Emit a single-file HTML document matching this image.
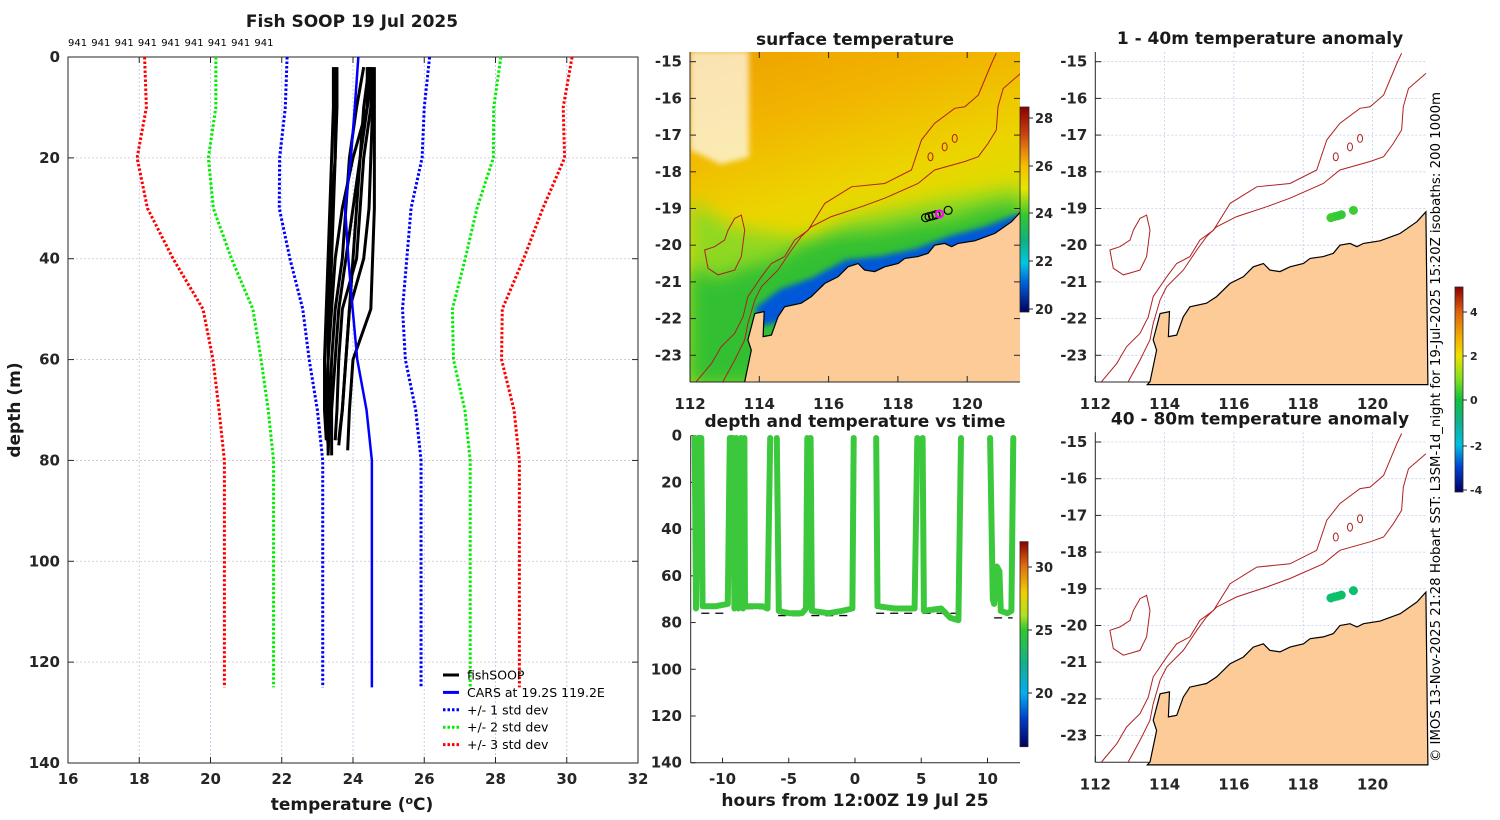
<!DOCTYPE html>
<html><head><meta charset="utf-8">
<style>
html,body{margin:0;padding:0;background:#fff;}
svg{display:block;font-family:"DejaVu Sans","Liberation Sans",sans-serif;}
.t{font-weight:bold;font-size:17px;fill:#1a1a1a;}
.tk{font-weight:bold;font-size:15px;fill:#262626;}
.sm{font-size:12.5px;fill:#000;}
</style></head>
<body>
<svg id="root" width="1500" height="820" viewBox="0 0 1500 820">
<defs>
<linearGradient id="gSST" x1="0" y1="0" x2="0" y2="1">
<stop offset="0" stop-color="#8b0000"/><stop offset="0.12" stop-color="#c43a10"/><stop offset="0.22" stop-color="#e88a10"/>
<stop offset="0.29" stop-color="#f5c000"/><stop offset="0.4" stop-color="#e6e600"/><stop offset="0.53" stop-color="#30c830"/>
<stop offset="0.65" stop-color="#10b080"/><stop offset="0.76" stop-color="#00c8e0"/><stop offset="0.86" stop-color="#0060d8"/>
<stop offset="1" stop-color="#000060"/></linearGradient>
<linearGradient id="gTime" x1="0" y1="0" x2="0" y2="1">
<stop offset="0" stop-color="#8b0000"/><stop offset="0.12" stop-color="#e07010"/><stop offset="0.25" stop-color="#f0d000"/>
<stop offset="0.36" stop-color="#b0e020"/><stop offset="0.43" stop-color="#30c830"/><stop offset="0.6" stop-color="#10b090"/>
<stop offset="0.74" stop-color="#00b0f0"/><stop offset="0.86" stop-color="#0040d0"/><stop offset="1" stop-color="#000060"/></linearGradient>
<linearGradient id="gAnom" x1="0" y1="0" x2="0" y2="1">
<stop offset="0" stop-color="#8b0000"/><stop offset="0.12" stop-color="#e06010"/><stop offset="0.25" stop-color="#f0b000"/>
<stop offset="0.335" stop-color="#f0e000"/><stop offset="0.45" stop-color="#80e020"/><stop offset="0.55" stop-color="#10c040"/>
<stop offset="0.66" stop-color="#10b090"/><stop offset="0.77" stop-color="#00c0e0"/><stop offset="0.88" stop-color="#0040d0"/>
<stop offset="1" stop-color="#000060"/></linearGradient>
<linearGradient id="gSea" x1="0" y1="0" x2="0.3" y2="1">
<stop offset="0" stop-color="#eea000"/><stop offset="0.25" stop-color="#f2b400"/><stop offset="0.5" stop-color="#ecd400"/>
<stop offset="0.7" stop-color="#d8e000"/><stop offset="1" stop-color="#a8dc10"/></linearGradient>
<filter id="blur8" x="-20%" y="-20%" width="140%" height="140%"><feGaussianBlur stdDeviation="9"/></filter>
<filter id="blur3" x="-20%" y="-20%" width="140%" height="140%"><feGaussianBlur stdDeviation="3"/></filter>
<clipPath id="clipSST"><rect x="690" y="52" width="330" height="330"/></clipPath>
</defs>
<g id="leftPanel"></g>
<g id="sstPanel"></g>
<g id="timePanel"></g>
<g id="anomPanels"></g>
<text x="1440" y="762" transform="rotate(-90 1440 762)" textLength="670" lengthAdjust="spacingAndGlyphs" style="font-size:13px;fill:#000">© IMOS 13-Nov-2025 21:28 Hobart SST: L3SM-1d_night for 19-Jul-2025 15:20Z isobaths: 200  1000m</text>
</svg>
<script>
// ---------- data ----------
const climDepth = [0,10,20,30,40,50,60,70,80,90,100,110,125];
const carsMean  = [24.15,24.05,23.94,23.78,23.87,23.99,24.12,24.38,24.53,24.53,24.53,24.53,24.53];
const carsSD    = [2.0,1.95,2.0,1.85,1.64,1.4,1.35,1.38,1.38,1.38,1.38,1.38,1.38];
const profDepth = [2,10,20,30,40,50,60,70,76];
const prof1 = [23.45,23.45,23.4,23.35,23.3,23.25,23.2,23.2,23.25];
const prof2 = [23.5,23.5,23.5,23.45,23.4,23.35,23.3,23.25,23.3];
const prof3 = [24.4,24.4,24.0,23.7,23.5,23.4,23.3,23.3,23.3];
const prof4 = [24.5,24.4,24.2,24.0,23.8,23.6,23.5,23.4,23.4];
const prof5 = [24.5,24.5,24.3,24.2,24.1,23.7,23.6,23.55,23.5];
const prof6 = [24.55,24.55,24.5,24.45,24.3,23.9,23.8,23.7,23.6];
const prof7 = [24.6,24.6,24.6,24.6,24.55,24.5,24.0,23.9,23.85];
const prof8 = [24.3,24.1,23.9,23.8,23.7,23.5,23.4,23.35,23.3];
const prof9 = [24.45,24.3,24.2,24.1,24.0,23.9,23.8,23.7,23.6];
const prof10= [23.55,23.55,23.5,23.4,23.35,23.3,23.3,23.25,23.3];
const tempTicks = [16,18,20,22,24,26,28,30,32];
const depthTicks = [0,20,40,60,80,100,120,140];
const counts = ["941","941","941","941","941","941","941","941","941"];

const traceHours = [-12.1,-12.0,-11.85,-11.6,-11.5,-10.5,-9.6,-9.45,-9.2,-9.1,-8.95,-8.8,-8.6,-8.45,-8.35,-8.3,-7.0,-6.6,-6.4,null,-5.9,-5.75,-5.0,-4.0,-3.7,-3.6,null,-3.35,-3.25,-2,-1,-0.2,-0.1,null,1.6,1.7,3,4.5,4.7,null,5.1,5.2,6.5,7.2,7.8,8.0,null,10.2,10.4,10.5,10.7,10.9,11.0,11.5,11.8,11.95];
const traceDepth = [1,74,1,1,73,73,72,1,1,74,1,74,1,74,1,73,73,74,1,null,1,75,76,76,74,1,null,1,75,76,75,74,1,null,1,73,74,74,1,null,1,75,74,78,79,1,null,1,70,72,56,58,75,76,75,1];
const bottomStart = [-11.6,-8.3,-5.8,-3.3,1.6,5.1,10.5];
const bottomEnd   = [-9.6,-6.5,-3.7,-0.2,4.7,8.0,11.9];
const bottomDepth = [76,74,77,77,76,76,78];
const hourTicks = [-10,-5,0,5,10];
const timeDepthTicks = [0,20,40,60,80,100,120,140];

const coastLon = [113.58,113.77,113.67,113.87,114.14,114.11,114.35,114.54,114.73,115.21,115.5,115.89,116.27,116.56,116.85,117.04,117.33,117.62,118.01,118.2,118.58,118.87,119.06,119.35,119.55,119.74,120.22,120.8,121.28,121.54,121.6,113.5];
const coastLat = [-23.72,-22.86,-22.58,-21.86,-21.81,-22.49,-22.45,-21.95,-21.68,-21.58,-21.4,-21.04,-20.86,-20.59,-20.5,-20.68,-20.72,-20.59,-20.5,-20.36,-20.31,-20.22,-20.0,-19.95,-20.04,-19.95,-19.88,-19.68,-19.36,-19.09,-23.8,-23.8];
const iso200Lon = [112.95,113.29,113.58,113.67,113.87,114.06,114.54,114.93,115.21,115.5,116.08,116.95,117.62,118.58,119.06,119.93,120.32,120.6,120.84,120.89,121.04,121.54];
const iso200Lat = [-23.72,-23.13,-22.58,-22.13,-21.49,-21.13,-20.68,-20.13,-19.77,-19.5,-19.22,-18.95,-18.72,-18.32,-17.95,-17.72,-17.59,-17.23,-16.86,-16.23,-15.73,-15.32];
const iso1000Lon = [112.18,112.62,112.9,113.29,113.53,113.67,114.06,114.35,114.73,115.02,115.41,115.89,116.66,117.62,118.39,118.68,119.06,119.64,119.93,120.32,120.7,120.84];
const iso1000Lat = [-23.72,-23.22,-22.77,-22.4,-21.95,-21.4,-20.86,-20.5,-20.31,-19.86,-19.59,-18.86,-18.41,-18.32,-17.95,-17.13,-16.68,-16.27,-16.23,-15.91,-15.05,-14.77];
const islandLon = [113.48,113.58,113.48,113.29,112.81,112.52,112.42,112.71,113.0,113.1,113.29];
const islandLat = [-19.18,-19.59,-20.31,-20.68,-20.81,-20.63,-20.13,-20.04,-19.86,-19.59,-19.27];
const reefLon = [118.94,119.35,119.64];
const reefLat = [-17.59,-17.32,-17.09];
const stnLon = [118.8,118.9,119.0,119.1,119.45];
const stnLat = [-19.25,-19.22,-19.2,-19.17,-19.05];
const anomShallow = [0.4,0.4,0.3,0.3,0.4];
const anomDeep = [-0.6,-0.6,-0.5,-0.5,-0.6];
const lonTicks = [112,114,116,118,120];
const latTicks = [-15,-16,-17,-18,-19,-20,-21,-22,-23];

// ---------- helpers ----------
const NS='http://www.w3.org/2000/svg';
function mk(parent, tag, attrs, text){const e=document.createElementNS(NS,tag);for(const k in attrs)e.setAttribute(k,attrs[k]);if(text!==undefined)e.textContent=text;parent.appendChild(e);return e;}

// ---------- left panel ----------
(function(){
const g=document.getElementById('leftPanel');
const L=68,R=638,T=57,B=763;
const xs=t=>L+(t-16)/(16)*(R-L);
const ys=d=>T+d/140*(B-T);
let e;
e=mk(g,'rect',{x:L,y:T,width:R-L,height:B-T,fill:'#fff',stroke:'#262626','stroke-width':1});

tempTicks.forEach((t,i)=>{
 if(i>0&&i<tempTicks.length-1){e=mk(g,'line',{x1:xs(t),x2:xs(t),y1:T,y2:B,stroke:'#b8c4e6','stroke-width':0.8,'stroke-dasharray':'2 2'});
 }
 mk(g,'line',{x1:xs(t),x2:xs(t),y1:B,y2:B-6,stroke:'#262626'});mk(g,'line',{x1:xs(t),x2:xs(t),y1:T,y2:T+6,stroke:'#262626'});
 e=mk(g,'text',{x:xs(t),y:784,'text-anchor':'middle',class:'tk'},String(t));
 
});
depthTicks.forEach((d,i)=>{
 if(i>0&&i<depthTicks.length-1){e=mk(g,'line',{x1:L,x2:R,y1:ys(d),y2:ys(d),stroke:'#d8c0c8','stroke-width':0.8,'stroke-dasharray':'2 2'});
 }
 mk(g,'line',{x1:L,x2:L+6,y1:ys(d),y2:ys(d),stroke:'#262626'});mk(g,'line',{x1:R,x2:R-6,y1:ys(d),y2:ys(d),stroke:'#262626'});
 e=mk(g,'text',{x:60,y:ys(d)+5,'text-anchor':'end',class:'tk'},String(d));
 
});
const stdCols=['#0000ff','#00ee00','#ff0000'];
[1,2,3].forEach(k=>{[-1,1].forEach(s=>{
 const pts=climDepth.map((d,i)=>xs(carsMean[i]+s*k*carsSD[i])+','+ys(d)).join(' ');
 e=mk(g,'polyline',{points:pts,fill:'none',stroke:stdCols[k-1],'stroke-width':3,'stroke-dasharray':'2.5 2'});
 
});});
[prof1,prof2,prof3,prof4,prof5,prof6,prof7,prof8,prof9,prof10].forEach((p,j)=>{
 const pts=p.map((t,i)=>xs(t)+','+ys(profDepth[i]+(i==p.length-1?(j%4):0))).join(' ');
 e=mk(g,'polyline',{points:pts,fill:'none',stroke:'#000','stroke-width':3,'stroke-linejoin':'round'});
 
});
e=mk(g,'polyline',{points:climDepth.map((d,i)=>xs(carsMean[i])+','+ys(d)).join(' '),fill:'none',stroke:'#0000ff','stroke-width':2.5});

counts.forEach((c,i)=>{e=mk(g,'text',{x:68+i*23.3,y:46,style:'font-size:10px;fill:#000'},c);
 });
e=mk(g,'text',{x:352,y:27,'text-anchor':'middle',class:'t'},'Fish SOOP 19 Jul 2025');

e=mk(g,'text',{x:352,y:810,'text-anchor':'middle',class:'t'});
e.innerHTML='temperature (<tspan dy="-6" style="font-size:11px">o</tspan><tspan dy="6">C)</tspan>';

e=mk(g,'text',{x:20,y:410,'text-anchor':'middle',class:'t',transform:'rotate(-90 20 410)'},'depth (m)');

const leg=[['fishSOOP','#000',''],['CARS at 19.2S 119.2E','#0000ff',''],['+/- 1 std dev','#0000ff','2.5 2'],['+/- 2 std dev','#00ee00','2.5 2'],['+/- 3 std dev','#ff0000','2.5 2']];
leg.forEach((l,i)=>{const y=675+i*17.4;
 const lg=mk(g,'g',{});
 const a={x1:443,x2:459,y1:y,y2:y,stroke:l[1],'stroke-width':3};if(l[2])a['stroke-dasharray']=l[2];mk(lg,'line',a);
 mk(lg,'text',{x:467,y:y+4.5,class:'sm'},l[0]);});
})();

// ---------- map helpers ----------
function proj(x0,yTop){return [lon=>x0+(lon-112)*34.65, lat=>yTop+(-14.736-lat)*36.7];}
function pathFrom(px,py,lons,lats,close){return lons.map((l,i)=>(i?'L':'M')+px(l).toFixed(1)+','+py(lats[i]).toFixed(1)).join('')+(close?'Z':'');}
function mapAxes(g,x0,yTop,grid){
 const [px,py]=proj(x0,yTop);let e;
 lonTicks.forEach(l=>{ if(grid){mk(g,'line',{x1:px(l),x2:px(l),y1:yTop,y2:yTop+330,stroke:'#c4cce8','stroke-width':0.8,'stroke-dasharray':'2 2'});}
  mk(g,'line',{x1:px(l),x2:px(l),y1:yTop+330,y2:yTop+324,stroke:'#262626'});
  if(!grid)mk(g,'line',{x1:px(l),x2:px(l),y1:yTop,y2:yTop+6,stroke:'#262626'});
  e=mk(g,'text',{x:px(l),y:yTop+357,'text-anchor':'middle',class:'tk'},String(l));
  });
 latTicks.forEach(l=>{ if(grid){mk(g,'line',{x1:x0,x2:x0+330,y1:py(l),y2:py(l),stroke:'#c4cce8','stroke-width':0.8,'stroke-dasharray':'2 2'});}
  mk(g,'line',{x1:x0,x2:x0+6,y1:py(l),y2:py(l),stroke:'#262626'});
  if(!grid)mk(g,'line',{x1:x0+330,x2:x0+324,y1:py(l),y2:py(l),stroke:'#262626'});
  e=mk(g,'text',{x:x0-8,y:py(l)+5,'text-anchor':'end',class:'tk'},String(l));
  });
 mk(g,'line',{x1:x0,x2:x0,y1:yTop,y2:yTop+330,stroke:'#262626'});
 mk(g,'line',{x1:x0,x2:x0+330,y1:yTop+330,y2:yTop+330,stroke:'#262626'});
}
function bathy(g,px,py){let e;
 e=mk(g,'path',{d:pathFrom(px,py,iso200Lon,iso200Lat),fill:'none',stroke:'#b02020','stroke-width':1});
 e=mk(g,'path',{d:pathFrom(px,py,iso1000Lon,iso1000Lat),fill:'none',stroke:'#b02020','stroke-width':1});
 e=mk(g,'path',{d:pathFrom(px,py,islandLon,islandLat,true),fill:'none',stroke:'#b02020','stroke-width':1});
 reefLon.forEach((l,i)=>{mk(g,'ellipse',{cx:px(l),cy:py(reefLat[i]),rx:2.5,ry:4,fill:'none',stroke:'#b02020','stroke-width':1});});
}
function land(g,px,py){const e=mk(g,'path',{d:pathFrom(px,py,coastLon,coastLat,true),fill:'#fccb98',stroke:'#000','stroke-width':1.2});
 }

// ---------- SST map ----------
(function(){
const g=document.getElementById('sstPanel');const x0=690,yT=52;const [px,py]=proj(x0,yT);let e;
const f=mk(g,'g',{'clip-path':'url(#clipSST)'});
mk(f,'rect',{x:690,y:52,width:330,height:330,fill:'url(#gSea)'});
mk(f,'path',{d:pathFrom(px,py,[112,113.2,115.5,116.6,118,119.5,121.6,121.6,112],[-18.8,-19.5,-19.9,-19.3,-19.0,-18.7,-18.4,-23.8,-23.8],true),fill:'#8fd820',filter:'url(#blur8)'});
mk(f,'path',{d:pathFrom(px,py,[112,112.8,113.6,114.5,115.2,116.2,117.5,118.5,119.5,120.5,121.6,121.6,113.5,112],[-20.6,-20.9,-20.6,-20.4,-20.0,-19.7,-19.6,-19.4,-19.3,-19.0,-18.8,-23.8,-23.8,-23.8],true),fill:'#30c030',filter:'url(#blur8)'});
mk(f,'path',{d:pathFrom(px,py,[113.9,114.6,115.5,116.5,117.5,118.5,119.5,120.5,121.6,121.6,114],[-21.7,-21.2,-20.9,-20.4,-20.3,-20.1,-19.75,-19.5,-19.1,-21,-22.2],true),fill:'#0058d8',filter:'url(#blur3)'});
mk(f,'path',{d:pathFrom(px,py,[112,112.6,113.7,113.7,112.9,112],[-14.7,-14.7,-14.7,-17.6,-17.8,-17.4],true),fill:'#ffffff',opacity:0.7,filter:'url(#blur3)'});
land(f,px,py);bathy(f,px,py);
stnLon.forEach((l,i)=>{e=mk(g,'circle',{cx:px(l),cy:py(stnLat[i]),r:4,fill:'none',stroke:'#000','stroke-width':1.2});});
e=mk(g,'circle',{cx:px(119.2),cy:py(-19.15),r:3.5,fill:'none',stroke:'#ff00ff','stroke-width':2.2});
mapAxes(g,x0,yT,false);
e=mk(g,'text',{x:855,y:45,'text-anchor':'middle',class:'t'},'surface temperature');
e=mk(g,'rect',{x:1020,y:107,width:9,height:205,fill:'url(#gSST)',stroke:'#262626','stroke-width':0.8});
[[28,118],[26,166],[24,213],[22,261],[20,309]].forEach(c=>{mk(g,'line',{x1:1029,x2:1033,y1:c[1],y2:c[1],stroke:'#262626'});
 e=mk(g,'text',{x:1035,y:c[1]+5,style:'font-weight:bold;font-size:13px;fill:#262626'},String(c[0]));});
})();

// ---------- time panel ----------
(function(){
const g=document.getElementById('timePanel');let e;
const L=690.7,R=1020,T=435.7,B=762.7;
const xs=h=>855+h*13.25;const ys=d=>T+d/140*(B-T);
mk(g,'line',{x1:L,x2:L,y1:T,y2:B,stroke:'#262626'});mk(g,'line',{x1:L,x2:R,y1:B,y2:B,stroke:'#262626'});
timeDepthTicks.forEach(d=>{mk(g,'line',{x1:L,x2:L+5,y1:ys(d),y2:ys(d),stroke:'#262626'});
 e=mk(g,'text',{x:682,y:ys(d)+5,'text-anchor':'end',class:'tk'},String(d));});
hourTicks.forEach(h=>{mk(g,'line',{x1:xs(h),x2:xs(h),y1:B,y2:B-5,stroke:'#262626'});
 e=mk(g,'text',{x:xs(h),y:784,'text-anchor':'middle',class:'tk'},String(h));});
bottomStart.forEach((s,i)=>{e=mk(g,'line',{x1:xs(s),x2:xs(bottomEnd[i]),y1:ys(bottomDepth[i]),y2:ys(bottomDepth[i]),stroke:'#000','stroke-width':1.3,'stroke-dasharray':'8 6'});
 });
let seg=[];const segs=[];
traceHours.forEach((h,i)=>{if(h===null){segs.push(seg);seg=[];}else seg.push(xs(h).toFixed(1)+','+ys(traceDepth[i]).toFixed(1));});segs.push(seg);
segs.forEach(s=>{e=mk(g,'polyline',{points:s.join(' '),fill:'none',stroke:'#3cc83c','stroke-width':6,'stroke-linejoin':'round','stroke-linecap':'round'});
 });
e=mk(g,'text',{x:855,y:427,'text-anchor':'middle',class:'t'},'depth and temperature vs time');
e=mk(g,'text',{x:855,y:806,'text-anchor':'middle',class:'t'},'hours from 12:00Z 19 Jul 25');
e=mk(g,'rect',{x:1020,y:541.7,width:8,height:205,fill:'url(#gTime)',stroke:'#262626','stroke-width':0.8});
[[30,567],[25,630],[20,693]].forEach(c=>{mk(g,'line',{x1:1028,x2:1032,y1:c[1],y2:c[1],stroke:'#262626'});
 e=mk(g,'text',{x:1035,y:c[1]+5,style:'font-weight:bold;font-size:13px;fill:#262626'},String(c[0]));});
})();

// ---------- anomaly maps ----------
(function(){
const g=document.getElementById('anomPanels');let e;
function aCol(v){const stops=[[-4,[0,0,140]],[-2,[0,190,220]],[0,[16,192,64]],[1,[128,224,32]],[2,[240,224,0]],[4,[224,96,16]]];
 for(let i=0;i<stops.length-1;i++){if(v<=stops[i+1][0]){const t=Math.max(0,(v-stops[i][0])/(stops[i+1][0]-stops[i][0]));const a=stops[i][1],b=stops[i+1][1];return 'rgb('+a.map((c,j)=>Math.round(c+(b[j]-c)*t)).join(',')+')';}}return 'rgb(224,96,16)';}
[[52,'1 - 40m temperature anomaly',anomShallow,'shallow'],[432.3,'40 - 80m temperature anomaly',anomDeep,'deep']].forEach(cfg=>{
 const yT=cfg[0],x0=1095.3;const [px,py]=proj(x0,yT);
 const sub=mk(g,'g',{});
 mapAxes(sub,x0,yT,true);land(sub,px,py);bathy(sub,px,py);
 stnLon.forEach((l,i)=>{e=mk(sub,'circle',{cx:px(l),cy:py(stnLat[i]),r:4.5,fill:aCol(cfg[2][i])});});
 e=mk(sub,'text',{x:1260,y:yT-8,'text-anchor':'middle',class:'t'},cfg[1]);
});
e=mk(g,'rect',{x:1455,y:287,width:8,height:205,fill:'url(#gAnom)',stroke:'#262626','stroke-width':0.8});
[[4,312],[2,356],[0,400],[-2,446],[-4,490]].forEach(c=>{mk(g,'line',{x1:1463,x2:1467,y1:c[1],y2:c[1],stroke:'#262626'});
 e=mk(g,'text',{x:1470,y:c[1]+4,style:'font-weight:bold;font-size:11px;fill:#262626'},String(c[0]));});
})();
</script>
</body></html>
